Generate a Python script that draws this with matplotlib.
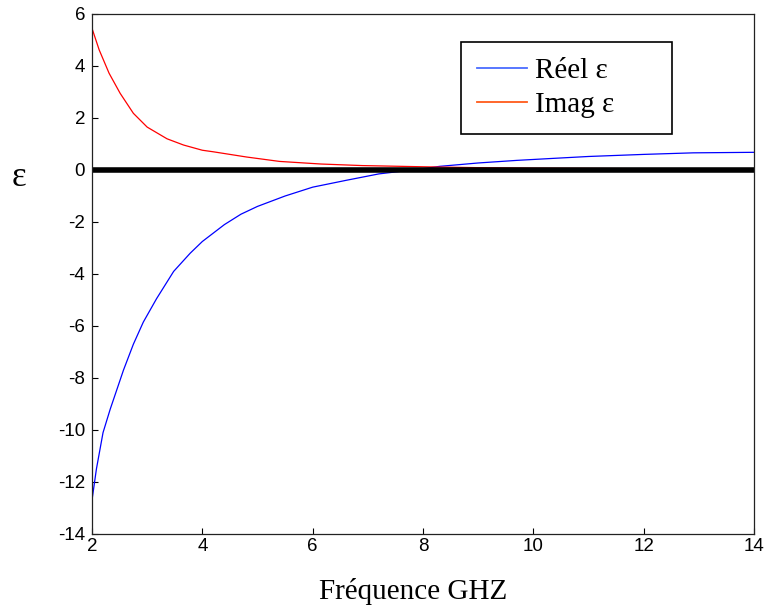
import matplotlib
matplotlib.use("Agg")
import matplotlib.pyplot as plt
from matplotlib.lines import Line2D

plt.rcParams["axes.unicode_minus"] = False

# fréquence (GHz) et permittivité
freq_re = [2.0, 2.08, 2.2, 2.33, 2.45, 2.57, 2.75, 2.93, 3.17, 3.48, 3.78, 4.0,
           4.4, 4.7, 5.0, 5.5, 6.0, 6.6, 7.2, 7.6, 8.0, 8.3, 9.0, 9.7, 10.3,
           11.0, 11.5, 12.0, 12.9, 14.0]
eps_re = [-12.7, -11.5, -10.1, -9.2, -8.45, -7.7, -6.7, -5.85, -4.95, -3.9, -3.2, -2.75,
          -2.1, -1.7, -1.4, -1.0, -0.66, -0.4, -0.15, -0.05, 0.05, 0.14, 0.27, 0.37, 0.44,
          0.52, 0.56, 0.60, 0.66, 0.68]

freq_im = [2.0, 2.13, 2.31, 2.51, 2.75, 3.0, 3.36, 3.66, 4.0, 4.2, 4.8, 5.4,
           6.15, 6.9, 8.1, 9.0, 10.0, 12.0, 14.0]
eps_im = [5.45, 4.62, 3.72, 2.95, 2.18, 1.65, 1.2, 0.96, 0.76, 0.7, 0.5, 0.33,
          0.23, 0.17, 0.12, 0.09, 0.07, 0.05, 0.04]

xticks = [2, 4, 6, 8, 10, 12, 14]
yticks = [-14, -12, -10, -8, -6, -4, -2, 0, 2, 4, 6]

fig = plt.figure(figsize=(7.67, 6.12), dpi=100)
ax = fig.add_axes([92 / 767, 78 / 612, 662 / 767, 520 / 612])

ax.plot(freq_re, eps_re, color="#0000ff", lw=0.9)
ax.plot(freq_im, eps_im, color="#ff0000", lw=0.9)
ax.axhline(0, color="black", lw=4)

ax.set_xlim(2, 14)
ax.set_ylim(-14, 6)
ax.set_xticks(xticks)
ax.set_yticks(yticks)
ax.tick_params(direction="in", length=4, width=0.8, labelsize=13.5)
ax.tick_params(axis="x", pad=3)
ax.tick_params(axis="y", pad=5)
for lab in ax.get_xticklabels() + ax.get_yticklabels():
    lab.set_fontfamily("Liberation Sans")
for sp in ax.spines.values():
    sp.set_linewidth(0.9)
    sp.set_color("#222222")

ax.set_xlabel("Fréquence GHZ", fontsize=21, fontfamily="Liberation Serif", labelpad=14)
ax.xaxis.set_label_coords((413 - 92) / 662, -0.085)
ax.xaxis.label.set_va("top")
ax.set_ylabel("ε", fontsize=25, fontfamily="Liberation Serif", rotation=0, va="center", ha="center")
ax.yaxis.set_label_coords(-0.11, 0.685)

handles = [Line2D([], [], color="#4a6cff", lw=1.3), Line2D([], [], color="#ff5a1a", lw=1.3)]
leg = ax.legend(handles, ["Réel ε", "Imag ε"], loc="upper left", mode="expand",
                bbox_to_anchor=((461 - 92) / 662, (534 - 133) / 520, 211 / 662, 91 / 520),
                prop={"family": "Liberation Serif", "size": 21},
                fancybox=False, framealpha=1, edgecolor="black",
                handlelength=1.7, handletextpad=0.3, borderpad=0.55,
                labelspacing=0.25, borderaxespad=0)
leg.get_frame().set_linewidth(1.2)

fig.savefig("out.png", dpi=100)
